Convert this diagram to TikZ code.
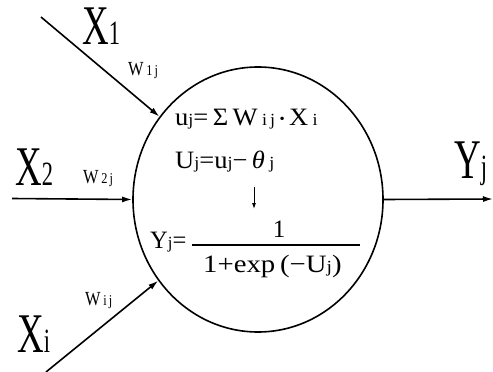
\documentclass[tikz,border=0pt]{standalone}
\usepackage{graphicx}
\usepackage{fontspec}
\setmainfont{Liberation Serif}
\usetikzlibrary{shapes.geometric,arrows.meta}
\newcommand{\cond}[2]{\scalebox{#1}[1]{#2}}
\newcommand{\fs}[1]{\fontsize{#1}{#1}\selectfont}
\begin{document}
\begin{tikzpicture}[x=1pt,y=-1pt,
  wire/.style={line width=1.6pt,-{Latex[length=10pt,width=6pt]}},
  big/.style={anchor=base west,inner sep=0pt,font=\fs{56}},
  wgt/.style={anchor=base west,inner sep=0pt,font=\fs{20}},
  frm/.style={anchor=base west,inner sep=0pt,font=\fs{25}}]
\useasboundingbox (0,0) rectangle (493,372);
\node[draw,ellipse,line width=1.6pt,minimum width=250pt,minimum height=265pt,inner sep=0pt] (neuron) at (258,199.5) {};
\coordinate (in1) at (41,17);
\coordinate (in2) at (12,198.5);
\coordinate (ini) at (46,372);
\coordinate (out) at (493,199);
\draw[wire] (in1) -- (neuron);
\draw[wire] (in2) -- (neuron.west);
\draw[wire] (ini) -- (neuron);
\draw[wire] (neuron.east) -- (out);
% labels
\node[big] (lx1) at (82,45) {\cond{0.66}{X{\fs{34}1}}};
\node[big] (lx2) at (15,185) {\cond{0.66}{X{\fs{34}2}}};
\node[big] (lxi) at (17,352) {\cond{0.66}{X{\fs{34}i}}};
\node[big] (lyj) at (454,178) {\cond{0.66}{Y{\fs{34}j}}};
\node[wgt] (w1) at (128,75) {\cond{0.82}{W\,{\fs{15}1\,j}}};
\node[wgt] (w2) at (83,183) {\cond{0.82}{W\,{\fs{15}2\,j}}};
\node[wgt] (wi) at (85,305) {\cond{0.82}{W\,{\fs{15}i\,j}}};
% formulas
\node[frm] (f1) at (175,125) {\cond{1.06}{u{\fs{17}j}=\,Σ\,W\,{\fs{17}i\,j}\,{\fs{14}\raisebox{2pt}{•}}\,X\,{\fs{17}i}}};
\node[frm] (f2) at (175,168) {\cond{1.06}{U{\fs{17}j}=u{\fs{17}j}−\,\textit{θ}\,{\fs{17}j}}};
\coordinate (a1) at (254,187);
\coordinate (a2) at (254,209);
\draw[line width=0.9pt,-{Latex[length=6pt,width=4pt]}] (a1) -- (a2);
\node[frm] (f3) at (150,248) {\cond{0.98}{Y{\fs{17}j}=}};
\node[frm,anchor=base] (num) at (279,237) {1};
\coordinate (b1) at (192,245);
\coordinate (b2) at (360,245);
\draw[line width=1.1pt] (b1) -- (b2);
\node[frm] (den) at (203,272) {\cond{1.15}{1+exp\,(−U{\fs{17}j})}};
\end{tikzpicture}
\end{document}
